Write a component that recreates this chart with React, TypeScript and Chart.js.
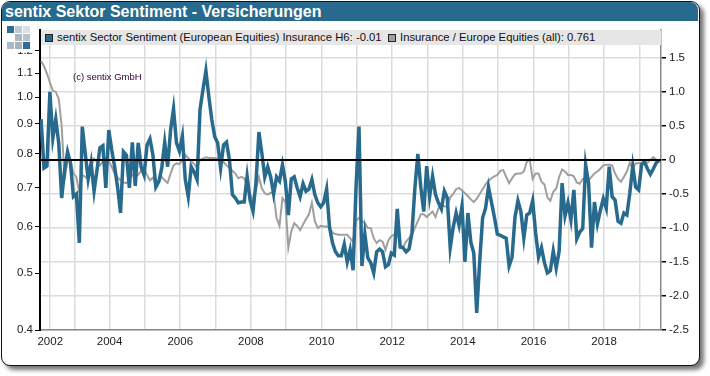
import React, { useEffect, useRef } from "react";
import { Chart, registerables } from "chart.js";

Chart.register(...registerables);

const FONT = '"Liberation Sans", Arial, sans-serif';

const titleText = "sentix Sektor Sentiment - Versicherungen";
const copyrightText = "(c) sentix GmbH";
const blueLabel = "sentix Sector Sentiment (European Equities) Insurance H6: -0.01";
const greyLabel = "Insurance / Europe Equities (all): 0.761";

const sectorSentiment = [
  0.6, -0.12, -0.09, 1.0, 0.32, 0.6, 0.25, -0.56, -0.15, 0.12, -0.05, -0.54,
  -0.5, -1.22, 0.49, 0.1, -0.28, -0.04, -0.46, -0.15, 0.18, 0.21, -0.41, 0.44,
  0.15, -0.1, -0.4, -0.78, 0.12, 0.07, -0.41, 0.26, -0.38, 0.25, -0.1, -0.22,
  0.22, 0.31, 0.07, -0.4, -0.32, -0.12, 0.26, -0.1, 0.44, 0.75, 0.25, 0.13,
  0.35, -0.29, -0.54, -0.1, -0.18, -0.29, 0.74, 1.03, 1.31, 0.93, 0.59, 0.34,
  0.25, -0.12, 0.22, 0.26, 0, -0.51, -0.56, -0.63, -0.62, -0.62, -0.24, -0.59,
  -0.75, -0.34, 0.41, 0.1, -0.25, -0.1, -0.25, -0.5, -0.25, -0.31, -0.07, -0.32,
  -0.81, -0.28, -0.25, -0.41, -0.54, -0.35, -0.46, -0.43, -0.29, -0.51, -0.63, -0.69,
  -0.63, -0.43, -0.99, -1.22, -1.35, -1.41, -1.41, -1.24, -1.5, -1.32, -1.62, -0.4,
  0.49, -1.56, -1.09, -1.44, -1.51, -1.66, -1.35, -1.31, -1.35, -1.57, -1.54, -1.37,
  -1.4, -0.72, -1.28, -1.29, -1.35, -1.31, -1.07, -0.41, 0.09, -0.4, -0.76, -0.09,
  -0.54, -0.24, -0.51, -0.63, -0.72, -0.46, -0.56, -1.29, -0.99, -0.78, -0.96, -0.68,
  -1.5, -0.78, -1.21, -1.37, -2.25, -1.5, -0.85, -0.71, -0.4, -0.62, -0.84, -1.09,
  -1.11, -1.13, -1.15, -1.56, -1.43, -0.84, -0.6, -0.76, -1.15, -0.81, -0.78, -0.6,
  -1.07, -1.43, -1.29, -1.51, -1.66, -1.63, -1.34, -1.59, -1.34, -0.34, -0.82, -0.63,
  -0.88, -0.44, -1.16, -1.06, -1.01, -0.07, -0.34, -1.29, -0.62, -0.94, -0.74, -0.57,
  -0.71, -0.1, -0.54, -0.59, -0.9, -0.93, -0.78, -0.81, -0.49, -0.09, -0.4, -0.44,
  -0.07, -0.03, -0.13, -0.21, -0.13, -0.04, -0.01,
];

const insuranceRelative = [
  1.45, 1.38, 1.27, 1.14, 1.02, 1.0, 0.9, 0.5, -0.3, 0, -0.02, -0.2,
  -0.25, -0.48, -0.22, -0.25, -0.28, -0.1, 0.02, -0.03, -0.08, -0.02, 0.02, -0.02,
  -0.1, -0.2, -0.26, -0.3, -0.33, -0.34, -0.3, -0.22, -0.25, -0.22, -0.16, -0.13,
  -0.22, -0.3, -0.26, -0.37, -0.3, -0.25, -0.3, -0.34, -0.2, -0.08, -0.05, -0.06,
  0, 0.07, 0.03, -0.02, -0.06, -0.12, 0, 0.02, 0.04, 0.03, 0.03, 0.03,
  0.02, 0, -0.03, -0.08, -0.12, -0.16, -0.2, -0.27, -0.25, -0.27, -0.38, -0.5,
  -0.6, -0.42, -0.25, -0.42, -0.49, -0.51, -0.48, -0.5, -0.85, -0.97, -0.56, -0.62,
  -1.29, -1.05, -0.93, -0.97, -1.03, -0.95, -0.87, -0.8, -0.63, -0.9, -1.0, -0.97,
  -0.98, -0.98, -0.99, -1.07, -1.09, -1.1, -1.1, -1.1, -1.1, -1.15, -1.21, -0.9,
  -0.85, -0.9, -0.93, -1.0, -1.0, -1.15, -1.22, -1.18, -1.2, -1.32, -1.18, -1.12,
  -1.1, -1.07, -1.25, -1.28, -1.2, -1.15, -1.1, -1.0, -0.9, -0.8, -0.8, -0.84,
  -0.8, -0.76, -0.84, -0.71, -0.66, -0.68, -0.69, -0.55, -0.5, -0.43, -0.41, -0.45,
  -0.49, -0.53, -0.58, -0.62, -0.57, -0.5, -0.43, -0.36, -0.31, -0.27, -0.24, -0.22,
  -0.16, -0.15, -0.25, -0.34, -0.27, -0.21, -0.2, -0.2, -0.17, -0.03, 0.01, -0.28,
  -0.2, -0.2, -0.32, -0.36, -0.55, -0.6, -0.47, -0.42, -0.25, -0.14, -0.17, -0.22,
  -0.22, -0.24, -0.33, -0.35, -0.28, -0.26, -0.3, -0.25, -0.2, -0.17, -0.13, -0.08,
  -0.07, -0.07, -0.08, -0.2, -0.28, -0.32, -0.25, -0.17, -0.04, -0.13, -0.05, -0.05,
  -0.04, -0.03, -0.04, 0, 0.04, 0, 0,
];

const xGridYears = [
  2002.32, 2003, 2004, 2005, 2006, 2007, 2008, 2009, 2010, 2011, 2012, 2013, 2014, 2015, 2016,
  2017, 2018, 2019,
];
const leftTicks = [0.4, 0.5, 0.6, 0.7, 0.8, 0.9, 1.0, 1.1, 1.2];
const rightTicks = [-2.5, -2, -1.5, -1, -0.5, 0, 0.5, 1, 1.5];

const firstMonth = 2002.06;
const xMin = 2002.03;
const xMax = 2019.61;
const toPoints = (values: number[]) =>
  values.map((y, i) => ({ x: firstMonth + i / 12, y }));

const BLUE = "#286a8e";
const GREY = "#a09f9f";
const GRID = "#dcdcdc";

const logoCells = [
  ["#2d6c97", "#bfcbd3", "#d9e0e5"],
  ["#ffffff", "#a9b8c3", "#b5c2cc"],
  ["#a9bac6", "#a3b4c1", "#2d6c97"],
];

export default function App() {
  const canvasRef = useRef<HTMLCanvasElement | null>(null);

  useEffect(() => {
    const setTicks = (values: number[]) => (scale: any) => {
      scale.ticks = values.map((value) => ({ value }));
    };
    const chart = new Chart(canvasRef.current as HTMLCanvasElement, {
      type: "line",
      data: {
        datasets: [
          {
            label: "zero",
            data: [
              { x: xMin, y: 0 },
              { x: xMax, y: 0 },
            ],
            borderColor: "#000000",
            borderWidth: 2,
            pointRadius: 0,
            yAxisID: "yR",
            order: 0,
          },
          {
            label: blueLabel,
            data: toPoints(sectorSentiment),
            borderColor: BLUE,
            borderWidth: 3.5,
            pointRadius: 0,
            tension: 0,
            yAxisID: "yR",
            order: 1,
          },
          {
            label: greyLabel,
            data: toPoints(insuranceRelative),
            borderColor: GREY,
            borderWidth: 2,
            pointRadius: 0,
            tension: 0,
            yAxisID: "yR",
            order: 2,
          },
        ],
      },
      options: {
        animation: false,
        responsive: false,
        events: [],
        layout: { padding: { top: 30, left: 0, right: 0, bottom: 0 } },
        plugins: { legend: { display: false }, title: { display: false }, tooltip: { enabled: false } },
        scales: {
          x: {
            type: "linear",
            min: xMin,
            max: xMax,
            afterBuildTicks: setTicks(xGridYears),
            afterFit: (s: any) => {
              s.height = 46;
            },
            grid: { color: GRID, lineWidth: 1.5, tickLength: 0, drawTicks: false },
            border: { color: "#8a8a8a", width: 1.5 },
            ticks: {
              autoSkip: false,
              maxRotation: 0,
              padding: 5,
              color: "#222222",
              font: { family: FONT, size: 11.5 },
              callback: (v: any) => {
                const n = Number(v);
                if (n < 2003) return "2002";
                return n % 2 === 0 ? String(n) : "";
              },
            },
          },
          yL: {
            type: "logarithmic",
            position: "left",
            min: 0.4,
            max: 1.303,
            afterBuildTicks: setTicks(leftTicks),
            afterFit: (s: any) => {
              s.width = 40;
            },
            grid: { drawOnChartArea: false, tickColor: "#000000", tickLength: 5 },
            border: { color: "#000000", width: 2 },
            ticks: {
              autoSkip: false,
              padding: 2,
              color: "#222222",
              font: { family: FONT, size: 11.5 },
              callback: (v: any) => Number(v).toFixed(1),
            },
          },
          yR: {
            type: "linear",
            position: "right",
            min: -2.5,
            max: 1.91,
            afterBuildTicks: setTicks(rightTicks),
            afterFit: (s: any) => {
              s.width = 49;
            },
            grid: { color: GRID, lineWidth: 1.5, tickColor: "#000000", tickLength: 5 },
            border: { color: "#8a8a8a", width: 1.5 },
            ticks: {
              autoSkip: false,
              padding: 3,
              color: "#222222",
              font: { family: FONT, size: 11.5 },
              callback: (v: any) => (Number(v) === 0 ? "0" : Number(v).toFixed(1)),
            },
          },
        },
      },
    } as any);
    return () => chart.destroy();
  }, []);

  const abs: React.CSSProperties = { position: "absolute" };

  return (
    <div style={{ ...abs, left: 0, top: 0, width: 710, height: 376, overflow: "hidden", fontFamily: FONT, background: "#ffffff" }}>
      <div
        style={{
          ...abs,
          left: 1,
          top: 1,
          width: 697,
          height: 363,
          background: "#ffffff",
          border: "1.5px solid #111111",
          borderRadius: 9,
          boxShadow: "4px 4px 4px #777777",
        }}
      />
      <div
        style={{
          ...abs,
          left: 2,
          top: 2,
          width: 696,
          height: 19,
          background: BLUE,
          borderRadius: "8px 8px 0 0",
          color: "#ffffff",
          fontWeight: 700,
          fontSize: 16,
          lineHeight: "19px",
          paddingLeft: 3,
          boxSizing: "border-box",
          whiteSpace: "nowrap",
        }}
      >
        {titleText}
      </div>
      <canvas ref={canvasRef} width={710} height={376} style={{ ...abs, left: 0, top: 0, width: 710, height: 376 }} />
      <div style={{ ...abs, left: 3, top: 23, width: 31, height: 29, background: "#ffffff" }} />
      {logoCells.map((row, r) =>
        row.map((color, c) => (
          <div key={`${r}-${c}`} style={{ ...abs, left: 7 + c * 8, top: 26 + r * 8, width: 7, height: 7, background: color }} />
        ))
      )}
      <div style={{ ...abs, left: 41, top: 30, width: 620, height: 15, background: "#e6e6e6" }} />
      <div style={{ ...abs, left: 45, top: 34, width: 6, height: 6, background: BLUE, border: "1px solid #222222" }} />
      <div style={{ ...abs, left: 57, top: 30, height: 15, lineHeight: "15px", fontSize: 11.3, color: "#111111", whiteSpace: "nowrap" }}>{blueLabel}</div>
      <div style={{ ...abs, left: 388, top: 34, width: 6, height: 6, background: GREY, border: "1px solid #222222" }} />
      <div style={{ ...abs, left: 400, top: 30, height: 15, lineHeight: "15px", fontSize: 11.3, color: "#111111", whiteSpace: "nowrap" }}>{greyLabel}</div>
      <div style={{ ...abs, left: 73, top: 71, fontSize: 9.5, lineHeight: "11px", color: "#300030", whiteSpace: "nowrap" }}>{copyrightText}</div>
    </div>
  );
}
